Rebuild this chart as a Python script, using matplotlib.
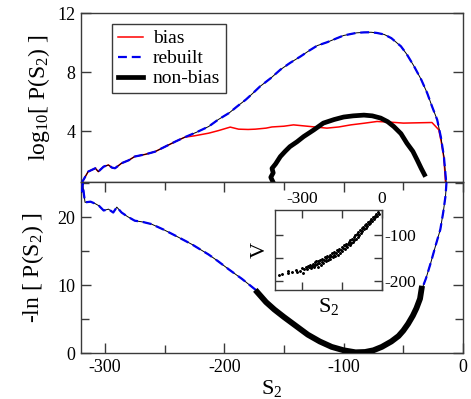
import matplotlib
matplotlib.use('Agg')
import matplotlib.pyplot as plt
from matplotlib.lines import Line2D
from matplotlib.ticker import MultipleLocator, FixedLocator

plt.rcParams['font.family'] = ['Liberation Serif', 'DejaVu Serif']
plt.rcParams['mathtext.fontset'] = 'custom'
plt.rcParams['mathtext.rm'] = 'Liberation Serif'
plt.rcParams['mathtext.it'] = 'Liberation Serif'
plt.rcParams['axes.unicode_minus'] = False

# ---------------- data ----------------
# top panel: log10 P(S2)
top_rebuilt_s = [-320, -318, -314, -308, -305.5, -301, -297, -294, -291.5, -286, -280, -275, -266, -258,
                 -250, -241, -233, -223, -213, -205, -196, -189, -182, -176, -170, -161, -153, -145,
                 -136, -129, -122, -114, -107, -100, -94, -89, -83, -77, -72, -66, -60, -52, -47, -41,
                 -35, -30, -26, -21.6, -18.5, -16, -14]
top_rebuilt_v = [0.45, 0.72, 1.28, 1.51, 1.28, 1.62, 1.73, 1.55, 1.51, 1.85, 2.05, 2.30, 2.45, 2.63,
                 2.95, 3.31, 3.61, 3.95, 4.33, 4.80, 5.24, 5.70, 6.14, 6.58, 7.04, 7.60, 8.17, 8.62,
                 9.07, 9.45, 9.80, 10.02, 10.25, 10.48, 10.58, 10.66, 10.69, 10.70, 10.65, 10.55, 10.30,
                 9.75, 9.20, 8.40, 7.50, 6.59, 5.70, 4.78, 3.60, 2.30, 0.50]

top_bias_s = [-320, -318, -314, -308, -305.5, -301, -297, -294, -291.5, -286, -280, -275, -266, -258,
              -250, -241, -233, -225, -213, -205, -195, -188, -180, -174, -165, -160, -150, -142,
              -128, -114, -104, -94, -83, -72, -60, -50, -38, -26, -20.3, -18, -16, -14.6]
top_bias_v = [0.45, 0.72, 1.28, 1.51, 1.28, 1.62, 1.73, 1.55, 1.51, 1.85, 2.05, 2.30, 2.45, 2.63,
              2.95, 3.31, 3.61, 3.70, 3.88, 4.05, 4.29, 4.15, 4.13, 4.15, 4.22, 4.30, 4.35, 4.44,
              4.33, 4.22, 4.30, 4.44, 4.55, 4.67, 4.62, 4.56, 4.58, 4.60, 4.11, 3.20, 2.20, 0.50]

top_nonbias_s = [-158.7, -161, -159, -160, -157, -153, -149, -145, -139, -133.5, -125, -117, -108, -100,
                 -92, -83, -76, -69, -63, -58, -52, -47, -42, -38.4, -35, -31.4]
top_nonbias_v = [0.5, 0.9, 1.2, 1.5, 1.8, 2.3, 2.65, 2.97, 3.3, 3.65, 4.1, 4.56, 4.8, 4.97,
                 5.05, 5.10, 5.05, 4.90, 4.65, 4.33, 3.85, 3.20, 2.65, 2.07, 1.5, 0.94]

# bottom panel: -ln P(S2)
bot_rebuilt_s = [-319.4, -318.5, -317.5, -316.6, -312, -308, -305, -301, -297, -293, -290, -286, -281,
                 -275, -268, -261, -251, -241, -227, -213, -205, -196, -185, -174, -167, -160, -154,
                 -147, -138, -128, -118, -108, -98, -89, -80, -72, -64, -55, -49, -44, -40, -35.6,
                 -31, -27, -23, -19, -16.5, -14.6, -13.8]
bot_rebuilt_v = [23.7, 24.9, 23.3, 22.2, 22.3, 22.0, 21.7, 21.0, 21.2, 20.7, 21.5, 20.7, 20.1,
                 19.5, 19.3, 19.0, 18.2, 17.3, 16.0, 14.5, 13.5, 12.3, 10.9, 9.35, 8.1, 6.9, 5.9,
                 4.9, 3.6, 2.42, 1.45, 0.70, 0.25, 0.0, 0.1, 0.45, 1.2, 2.42, 3.6, 4.9, 6.4, 8.86,
                 11.0, 13.3, 15.8, 18.2, 20.8, 23.2, 25.2]

bot_nonbias_s = [-174, -170, -165, -158, -150, -140, -130, -120, -110, -100, -90, -82, -75, -68,
                 -60, -54, -50, -46, -42, -39, -36, -34.3]
bot_nonbias_v = [9.3, 8.5, 7.5, 6.4, 5.3, 4.0, 2.7, 1.7, 0.9, 0.4, 0.1, 0.15, 0.4, 0.9,
                 1.7, 2.5, 3.3, 4.3, 5.5, 6.6, 8.0, 9.9]

# inset: V vs S2 scatter
inset_s = [-385, -372, -352, -350, -335, -320, -318, -305, -300, -296, -290, -285, -280, -276, -272,
           -268, -265, -262, -258, -255, -252, -250, -247, -244, -241, -238, -235, -232, -229, -226,
           -223, -220, -217, -214, -211, -208, -205, -202, -199, -196, -193, -190, -187, -184, -181,
           -178, -175, -172, -169, -166, -163, -160, -157, -154, -151, -148, -145, -142, -139, -136,
           -133, -130, -127, -124, -121, -118, -115, -112, -109, -106, -103, -100, -97, -94, -91,
           -88, -85, -82, -79, -76, -73, -70, -67, -64, -61, -58, -55, -52, -49, -46, -43, -40,
           -37, -34, -31, -28, -25, -22, -19, -16, -13]
inset_v = [-188, -186, -182, -178, -180, -176, -181, -178, -172, -183, -175, -170, -174, -167, -171,
           -165, -173, -168, -163, -170, -160, -166, -158, -164, -169, -157, -162, -155, -165, -159,
           -152, -161, -154, -149, -158, -151, -146, -155, -149, -143, -152, -146, -140, -149, -143,
           -137, -146, -139, -134, -143, -136, -131, -140, -132, -127, -136, -128, -123, -131, -124,
           -119, -127, -120, -115, -122, -112, -118, -108, -115, -105, -111, -101, -108, -98, -104,
           -94, -100, -90, -96, -86, -92, -83, -88, -79, -85, -76, -81, -72, -77, -69, -74, -66,
           -70, -62, -66, -59, -62, -55, -58, -51, -54]

# ---------------- figure ----------------
W, H = 471, 399
fig = plt.figure(figsize=(W / 100, H / 100), dpi=100)
L, R = 81 / W, 463 / W
ax1 = fig.add_axes([L, 1 - 182 / H, R - L, (182 - 13) / H])
ax2 = fig.add_axes([L, 1 - 353 / H, R - L, (353 - 182) / H])

spine_c = '#3a3a3a'
for ax in (ax1, ax2):
    for sp in ax.spines.values():
        sp.set_color(spine_c)
        sp.set_linewidth(1.0)
    ax.set_xlim(-320, 0)

# top panel curves
ax1.plot(top_bias_s, top_bias_v, color='#ff0000', lw=1.1, zorder=2)
ax1.plot(top_rebuilt_s, top_rebuilt_v, color='black', lw=0.7, zorder=3)
ax1.plot(top_rebuilt_s, top_rebuilt_v, color='#0000ee', lw=1.6, dashes=(4, 2.2), zorder=4)
ax1.plot(top_nonbias_s, top_nonbias_v, color='black', lw=3.4, zorder=5, solid_capstyle='butt')
ax1.set_ylim(0.58, 12.0)
ax1.yaxis.set_major_locator(FixedLocator([4, 8, 12]))
ax1.tick_params(axis='y', which='major', direction='in', length=7.5, width=1, color=spine_c,
                left=True, right=True, labelsize=13, pad=4)
ax1.tick_params(axis='x', which='both', bottom=False, top=False, labelbottom=False)
ax1.set_ylabel(r'log$_{\mathrm{10}}$[ P(S$_{\mathrm{2}}$) ]', fontsize=17, labelpad=4)

handles = [Line2D([], [], color='#ff0000', lw=1.1),
           Line2D([], [], color='#0000ee', lw=1.6, dashes=(4, 2.2)),
           Line2D([], [], color='black', lw=3.4)]
leg = ax1.legend(handles, ['bias', 'rebuilt', 'non-bias'], loc='upper left',
                 bbox_to_anchor=(0.081, 0.935), borderaxespad=0, fontsize=14,
                 handlelength=1.3, handletextpad=0.5, labelspacing=0.12,
                 borderpad=0.3, fancybox=False, framealpha=1)
leg.get_frame().set_edgecolor(spine_c)
leg.get_frame().set_linewidth(1.0)

# bottom panel curves
ax2.plot(bot_rebuilt_s, bot_rebuilt_v, color='black', lw=0.7, zorder=3)
ax2.plot(bot_rebuilt_s, bot_rebuilt_v, color='#0000ee', lw=1.6, dashes=(4, 2.2), zorder=4)
ax2.plot(bot_nonbias_s, bot_nonbias_v, color='black', lw=4.2, zorder=5, solid_capstyle='butt')
ax2.set_ylim(0, 25.2)
ax2.yaxis.set_major_locator(MultipleLocator(10))
ax2.yaxis.set_minor_locator(MultipleLocator(5))
ax2.xaxis.set_major_locator(MultipleLocator(100))
ax2.xaxis.set_minor_locator(MultipleLocator(50))
ax2.tick_params(which='both', direction='in', color=spine_c, width=1,
                left=True, right=True, top=True, bottom=True, labelsize=13)
ax2.tick_params(which='major', length=7.5)
ax2.tick_params(which='minor', length=5.5)
ax2.tick_params(axis='y', pad=4)
ax2.tick_params(axis='x', pad=4)
ax2.set_ylabel(r'-ln [ P(S$_{\mathrm{2}}$) ]', fontsize=17, labelpad=8)
ax2.set_xlabel(r'S$_{\mathrm{2}}$', fontsize=16, labelpad=2)

# inset
ia = fig.add_axes([275 / W, 1 - 290 / H, (382 - 275) / W, (290 - 210) / H])
ia.scatter(inset_s, inset_v, s=2.5, color='black', marker='+', linewidths=0.6, zorder=3)
ia.scatter(inset_s, inset_v, s=1.2, color='black', zorder=3)
ia.set_xlim(-400, 0)
ia.set_ylim(-220, -46)
ia.xaxis.set_major_locator(FixedLocator([-300, -150, 0]))
ia.set_xticklabels(['-300', '', '0'])
ia.yaxis.set_major_locator(FixedLocator([-200, -150, -100]))
ia.set_yticklabels(['-200', '', '-100'])
ia.tick_params(direction='in', length=6, width=1, color=spine_c, top=True, bottom=True,
               left=True, right=True, labeltop=True, labelbottom=False,
               labelleft=False, labelright=True, labelsize=12.5, pad=2)
for sp in ia.spines.values():
    sp.set_color(spine_c)
    sp.set_linewidth(1.0)
ia.set_ylabel('V', fontsize=16, labelpad=4)
ia.set_xlabel(r'S$_{\mathrm{2}}$', fontsize=16, labelpad=4)

fig.savefig('out.png', dpi=100)
